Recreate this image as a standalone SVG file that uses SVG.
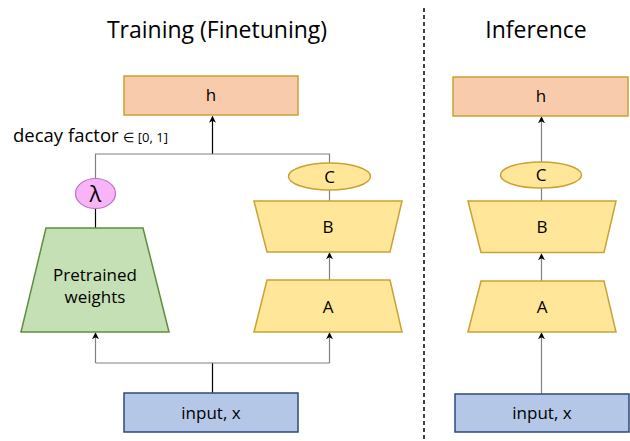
<svg xmlns="http://www.w3.org/2000/svg" width="630" height="441" viewBox="0 0 630 441">
<defs>
<marker id="arr" viewBox="0 0 10 10" refX="9" refY="5" markerWidth="7" markerHeight="7" orient="auto" markerUnits="userSpaceOnUse">
<path d="M0,0 L10,5 L0,10 L3,5 Z" fill="#000"/>
</marker>
<style>
text{font-family:"Open Sans","Liberation Sans",sans-serif;fill:#000;text-anchor:middle}
.t{font-size:23px}
.l{font-size:17px}
.h{fill:#f8cbad;stroke:#c9a233;stroke-width:1.5}
.y{fill:#ffe699;stroke:#c9a233;stroke-width:1.5}
.g{fill:#c5e0b4;stroke:#5f8f3e;stroke-width:1.5}
.b{fill:#b4c7e7;stroke:#2f4a78;stroke-width:1.5}
.p{fill:#f8b4f8;stroke:#c070c0;stroke-width:1.2}
.c{fill:none;stroke:#808080;stroke-width:1.2}
.k{fill:none;stroke:#000;stroke-width:1.2}
</style>
</defs>
<text class="t" x="217" y="38">Training (Finetuning)</text>
<text class="t" x="536" y="38">Inference</text>
<line x1="424" y1="8" x2="424" y2="441" stroke="#000" stroke-width="1.5" stroke-dasharray="4,3"/>
<text x="13" y="142" style="text-anchor:start;font-size:18.5px">decay factor <tspan style="font-size:13px">∈ [0, 1]</tspan></text>
<g id="connectors">
<path class="k" d="M212.5,154 L212.5,116.5" marker-end="url(#arr)"/>
<path class="c" d="M95.5,179 L95.5,154 L329.5,154 L329.5,163"/>
<path class="k" d="M95.5,208 L95.5,228"/>
<path class="c" d="M329.5,190 L329.5,201"/>
<path class="c" d="M329.5,280 L329.5,253" marker-end="url(#arr)"/>
<path class="k" d="M212.5,393 L212.5,363"/>
<path class="c" d="M95.5,363 L329.5,363"/>
<path class="c" d="M95.5,363 L95.5,333" marker-end="url(#arr)"/>
<path class="c" d="M329.5,363 L329.5,333" marker-end="url(#arr)"/>
<path class="c" d="M541.5,394 L541.5,333" marker-end="url(#arr)"/>
<path class="c" d="M541.5,281 L541.5,254" marker-end="url(#arr)"/>
<path class="c" d="M541.5,188 L541.5,201"/>
<path class="c" d="M541.5,162 L541.5,117" marker-end="url(#arr)"/>
</g>
<g id="train-h"><rect class="h" x="124" y="76" width="174" height="39"/><text class="l" x="211" y="101">h</text></g>
<g id="lambda"><ellipse class="p" cx="95.5" cy="193.5" rx="20" ry="15"/><text x="95.5" y="201.5" style="font-size:22px">λ</text></g>
<g id="train-c"><ellipse class="y" cx="329.5" cy="176.5" rx="41" ry="13.5"/><text class="l" x="329.5" y="182.5">C</text></g>
<g id="train-b"><path class="y" d="M254,201 L402,201 L390,252 L267,252 Z"/><text class="l" x="328" y="233">B</text></g>
<g id="train-a"><path class="y" d="M267,280 L390,280 L402,332 L254,332 Z"/><text class="l" x="328" y="313">A</text></g>
<g id="pretrained"><path class="g" d="M46,228 L143,228 L169,332 L21,332 Z"/><text class="l" x="95" y="281">Pretrained</text><text class="l" x="95" y="303">weights</text></g>
<g id="train-input"><rect class="b" x="124" y="393" width="174" height="39"/><text class="l" x="211" y="418.5">input, x</text></g>
<g id="inf-h"><rect class="h" x="453" y="77" width="175" height="39"/><text class="l" x="541" y="102">h</text></g>
<g id="inf-c"><ellipse class="y" cx="541" cy="175" rx="40.5" ry="13"/><text class="l" x="541" y="181">C</text></g>
<g id="inf-b"><path class="y" d="M468,201 L616,201 L604,252.5 L481,252.5 Z"/><text class="l" x="542" y="233">B</text></g>
<g id="inf-a"><path class="y" d="M481,281 L604,281 L616,332 L468,332 Z"/><text class="l" x="542" y="313">A</text></g>
<g id="inf-input"><rect class="b" x="455" y="394" width="174" height="38"/><text class="l" x="542" y="419">input, x</text></g>
</svg>
